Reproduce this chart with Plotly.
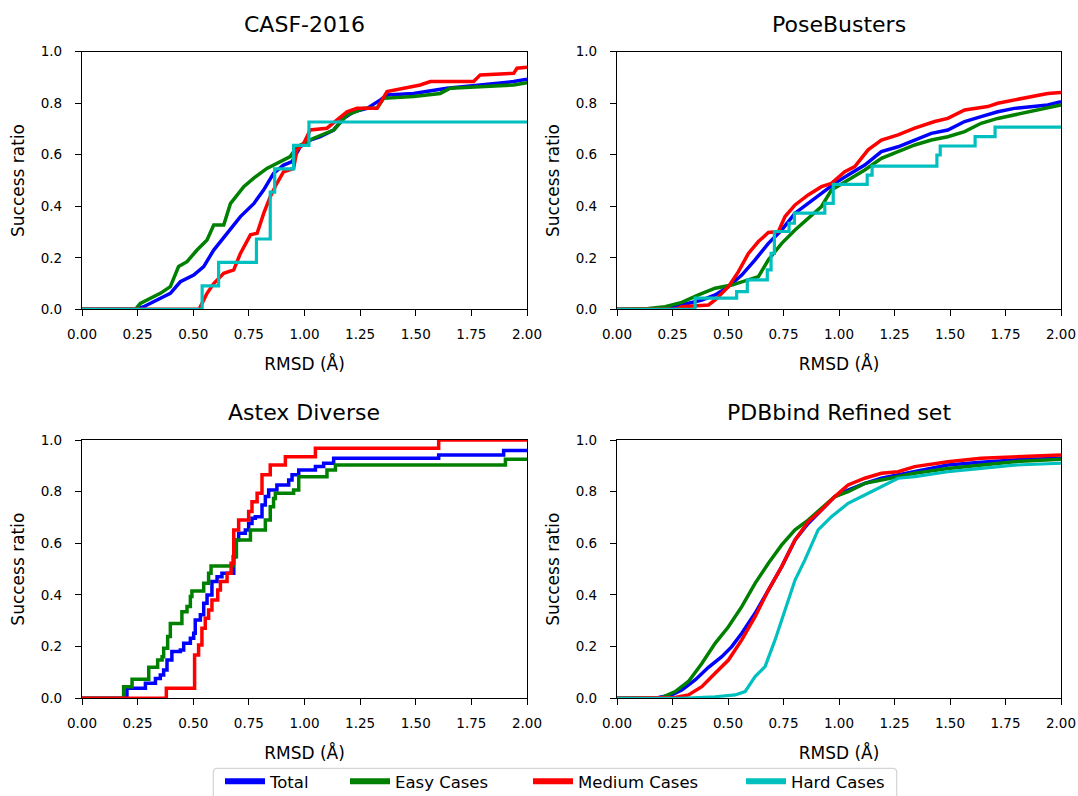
import plotly.graph_objects as go

# ---------------- data ----------------
series_names = ["Total", "Easy Cases", "Medium Cases", "Hard Cases"]
series_colors = ["#0000ff", "#008000", "#ff0000", "#00bfbf"]
panel_titles = ["CASF-2016", "PoseBusters", "Astex Diverse", "PDBbind Refined set"]
x_tick_vals = [0.0, 0.25, 0.5, 0.75, 1.0, 1.25, 1.5, 1.75, 2.0]
y_tick_vals = [0.0, 0.2, 0.4, 0.6, 0.8, 1.0]

# CASF-2016
casf_total_x = [0, 0.24, 0.277, 0.352, 0.397, 0.442, 0.502, 0.547, 0.592, 0.652, 0.712, 0.772, 0.816, 0.861, 0.906, 0.944, 0.981, 1.026, 1.071, 1.131, 1.176, 1.221, 1.281, 1.341, 1.371, 1.49, 1.64, 1.79, 1.94, 2.0]
casf_total_y = [0, 0, 0.01, 0.043, 0.062, 0.107, 0.133, 0.166, 0.23, 0.295, 0.36, 0.41, 0.463, 0.528, 0.56, 0.573, 0.631, 0.657, 0.67, 0.696, 0.741, 0.767, 0.78, 0.813, 0.832, 0.838, 0.858, 0.871, 0.884, 0.893]
casf_easy_x = [0, 0.24, 0.262, 0.292, 0.352, 0.397, 0.434, 0.472, 0.517, 0.562, 0.592, 0.637, 0.667, 0.727, 0.772, 0.831, 0.891, 0.936, 0.966, 1.041, 1.131, 1.191, 1.266, 1.326, 1.356, 1.49, 1.61, 1.655, 1.79, 1.94, 2.0]
casf_easy_y = [0, 0, 0.023, 0.036, 0.062, 0.088, 0.166, 0.185, 0.23, 0.269, 0.327, 0.327, 0.41, 0.476, 0.509, 0.547, 0.573, 0.593, 0.631, 0.664, 0.696, 0.754, 0.78, 0.78, 0.819, 0.826, 0.838, 0.858, 0.864, 0.871, 0.88]
casf_medium_x = [0, 0.529, 0.532, 0.562, 0.592, 0.637, 0.682, 0.712, 0.757, 0.787, 0.817, 0.846, 0.876, 0.906, 0.951, 0.966, 0.996, 1.026, 1.101, 1.146, 1.191, 1.236, 1.326, 1.371, 1.446, 1.52, 1.566, 1.76, 1.79, 1.94, 1.955, 2.0]
casf_medium_y = [0, 0, 0.01, 0.062, 0.1, 0.14, 0.153, 0.217, 0.289, 0.295, 0.373, 0.437, 0.489, 0.534, 0.547, 0.619, 0.644, 0.696, 0.703, 0.735, 0.767, 0.78, 0.78, 0.845, 0.858, 0.871, 0.884, 0.884, 0.91, 0.916, 0.936, 0.94]
casf_hard_x = [0, 0.54, 0.614, 0.784, 0.846, 0.866, 0.951, 1.02, 2.0]
casf_hard_y = [0, 0.091, 0.182, 0.273, 0.455, 0.545, 0.636, 0.727, 0.727]

# PoseBusters
pb_total_x = [0, 0.14, 0.217, 0.292, 0.382, 0.442, 0.502, 0.562, 0.622, 0.682, 0.742, 0.802, 0.861, 0.921, 0.981, 1.041, 1.116, 1.191, 1.266, 1.341, 1.416, 1.49, 1.566, 1.64, 1.715, 1.79, 1.865, 1.94, 2.0]
pb_total_y = [0, 0, 0.006, 0.017, 0.036, 0.056, 0.088, 0.133, 0.192, 0.256, 0.308, 0.373, 0.411, 0.45, 0.489, 0.521, 0.56, 0.612, 0.631, 0.657, 0.683, 0.696, 0.729, 0.748, 0.767, 0.78, 0.787, 0.793, 0.806]
pb_easy_x = [0, 0.142, 0.217, 0.292, 0.367, 0.442, 0.517, 0.592, 0.637, 0.682, 0.742, 0.802, 0.861, 0.921, 0.966, 1.041, 1.116, 1.191, 1.266, 1.341, 1.416, 1.49, 1.566, 1.64, 1.715, 1.79, 1.865, 1.94, 2.0]
pb_easy_y = [0, 0.003, 0.01, 0.027, 0.056, 0.082, 0.094, 0.114, 0.127, 0.192, 0.256, 0.308, 0.353, 0.399, 0.463, 0.502, 0.541, 0.586, 0.612, 0.638, 0.657, 0.67, 0.69, 0.722, 0.741, 0.754, 0.767, 0.78, 0.793]
pb_medium_x = [0, 0.262, 0.292, 0.412, 0.442, 0.502, 0.547, 0.592, 0.637, 0.682, 0.727, 0.757, 0.802, 0.861, 0.921, 0.966, 1.026, 1.071, 1.131, 1.191, 1.266, 1.341, 1.431, 1.49, 1.566, 1.67, 1.715, 1.79, 1.865, 1.94, 2.0]
pb_medium_y = [0, 0, 0.01, 0.017, 0.036, 0.088, 0.146, 0.217, 0.263, 0.298, 0.302, 0.36, 0.405, 0.444, 0.476, 0.489, 0.534, 0.554, 0.619, 0.657, 0.677, 0.703, 0.729, 0.741, 0.774, 0.787, 0.80, 0.813, 0.826, 0.838, 0.842]
pb_hard_x = [0, 0.352, 0.539, 0.587, 0.677, 0.694, 0.709, 0.775, 0.799, 0.936, 0.974, 1.127, 1.149, 1.441, 1.456, 1.613, 1.703, 2.0]
pb_hard_y = [0, 0.043, 0.069, 0.114, 0.153, 0.217, 0.302, 0.334, 0.373, 0.411, 0.485, 0.521, 0.556, 0.599, 0.634, 0.670, 0.707, 0.707]

# Astex Diverse (no hard cases)
astex_total_x = [0, 0.202, 0.285, 0.330, 0.352, 0.367, 0.382, 0.404, 0.442, 0.457, 0.487, 0.502, 0.509, 0.532, 0.547, 0.562, 0.584, 0.607, 0.629, 0.682, 0.689, 0.704, 0.734, 0.749, 0.764, 0.779, 0.809, 0.824, 0.839, 0.876, 0.929, 0.944, 0.974, 1.049, 1.086, 1.131, 1.603, 1.895, 2.0]
astex_total_y = [0, 0.039, 0.058, 0.077, 0.090, 0.110, 0.148, 0.181, 0.187, 0.213, 0.232, 0.252, 0.303, 0.323, 0.368, 0.400, 0.452, 0.471, 0.484, 0.548, 0.613, 0.639, 0.652, 0.677, 0.697, 0.703, 0.748, 0.781, 0.806, 0.826, 0.845, 0.865, 0.884, 0.897, 0.910, 0.929, 0.942, 0.959, 0.959]
astex_easy_x = [0, 0.187, 0.225, 0.300, 0.340, 0.360, 0.367, 0.385, 0.397, 0.449, 0.472, 0.487, 0.494, 0.547, 0.569, 0.580, 0.679, 0.694, 0.757, 0.824, 0.846, 0.861, 0.869, 0.951, 0.974, 1.101, 1.139, 1.903, 2.0]
astex_easy_y = [0, 0.045, 0.074, 0.120, 0.148, 0.161, 0.194, 0.239, 0.290, 0.335, 0.355, 0.394, 0.415, 0.445, 0.484, 0.512, 0.548, 0.613, 0.652, 0.690, 0.742, 0.774, 0.794, 0.806, 0.858, 0.884, 0.903, 0.925, 0.925]
astex_medium_x = [0, 0.379, 0.506, 0.524, 0.539, 0.554, 0.569, 0.584, 0.610, 0.622, 0.652, 0.670, 0.682, 0.704, 0.749, 0.764, 0.787, 0.809, 0.846, 0.914, 1.049, 1.603, 2.0]
astex_medium_y = [0, 0.039, 0.168, 0.206, 0.271, 0.310, 0.342, 0.381, 0.419, 0.452, 0.484, 0.523, 0.652, 0.690, 0.723, 0.761, 0.794, 0.865, 0.903, 0.935, 0.968, 1.0, 1.0]

# PDBbind Refined set
pdb_total_x = [0, 0.187, 0.247, 0.292, 0.352, 0.412, 0.472, 0.517, 0.562, 0.622, 0.682, 0.742, 0.802, 0.861, 0.921, 0.981, 1.041, 1.116, 1.191, 1.266, 1.341, 1.49, 1.64, 1.79, 2.0]
pdb_total_y = [0, 0.003, 0.013, 0.032, 0.071, 0.12, 0.161, 0.2, 0.252, 0.329, 0.419, 0.51, 0.613, 0.677, 0.729, 0.781, 0.806, 0.832, 0.852, 0.865, 0.877, 0.903, 0.914, 0.923, 0.929]
pdb_easy_x = [0, 0.202, 0.262, 0.322, 0.382, 0.442, 0.502, 0.562, 0.622, 0.682, 0.742, 0.802, 0.861, 0.921, 0.981, 1.041, 1.116, 1.191, 1.266, 1.341, 1.49, 1.64, 1.79, 2.0]
pdb_easy_y = [0, 0.003, 0.026, 0.065, 0.135, 0.213, 0.277, 0.355, 0.445, 0.523, 0.594, 0.652, 0.69, 0.735, 0.781, 0.80, 0.832, 0.845, 0.858, 0.871, 0.89, 0.903, 0.916, 0.925]
pdb_medium_x = [0, 0.262, 0.322, 0.382, 0.442, 0.502, 0.562, 0.622, 0.682, 0.742, 0.802, 0.861, 0.921, 0.981, 1.041, 1.116, 1.191, 1.266, 1.341, 1.49, 1.64, 1.79, 2.0]
pdb_medium_y = [0, 0.003, 0.013, 0.045, 0.097, 0.148, 0.226, 0.316, 0.419, 0.51, 0.613, 0.684, 0.729, 0.781, 0.826, 0.852, 0.871, 0.877, 0.897, 0.916, 0.929, 0.935, 0.942]
pdb_hard_x = [0, 0.292, 0.442, 0.532, 0.577, 0.622, 0.667, 0.712, 0.757, 0.802, 0.846, 0.906, 0.966, 1.041, 1.116, 1.191, 1.266, 1.341, 1.49, 1.64, 1.79, 2.0]
pdb_hard_y = [0, 0, 0.006, 0.013, 0.026, 0.084, 0.123, 0.226, 0.342, 0.458, 0.535, 0.652, 0.703, 0.755, 0.787, 0.819, 0.852, 0.858, 0.877, 0.89, 0.903, 0.91]

panels = [
    [(casf_total_x, casf_total_y, "linear"), (casf_easy_x, casf_easy_y, "linear"),
     (casf_medium_x, casf_medium_y, "linear"), (casf_hard_x, casf_hard_y, "hv")],
    [(pb_total_x, pb_total_y, "linear"), (pb_easy_x, pb_easy_y, "linear"),
     (pb_medium_x, pb_medium_y, "linear"), (pb_hard_x, pb_hard_y, "hv")],
    [(astex_total_x, astex_total_y, "hv"), (astex_easy_x, astex_easy_y, "hv"),
     (astex_medium_x, astex_medium_y, "hv"), None],
    [(pdb_total_x, pdb_total_y, "linear"), (pdb_easy_x, pdb_easy_y, "linear"),
     (pdb_medium_x, pdb_medium_y, "linear"), (pdb_hard_x, pdb_hard_y, "linear")],
]

# ---------------- layout geometry ----------------
W, H = 1078, 796
x_domains = [(82 / W, 527 / W), (617 / W, 1061 / W)]
y_domains = [(1 - 309.3 / H, 1 - 51.7 / H), (1 - 698.3 / H, 1 - 440 / H)]
FONT = "DejaVu Sans"
legend_entry_px = [224, 349, 532, 745]   # left edge of each legend entry (pixels)

fig = go.Figure()
layout = dict(
    width=W, height=H,
    margin=dict(l=0, r=0, t=0, b=0, autoexpand=False),
    paper_bgcolor="white", plot_bgcolor="white",
    font=dict(family=FONT, color="black"),
    showlegend=True,
)
for i, px in enumerate(legend_entry_px):
    key = "legend" if i == 0 else f"legend{i + 1}"
    layout[key] = dict(orientation="h", x=(px - 4) / W, xanchor="left",
                       y=1 - 764 / H, yanchor="top", borderwidth=0,
                       bgcolor="rgba(0,0,0,0)", font=dict(size=16.5, family=FONT),
                       itemwidth=40)

annotations = []
for p in range(4):
    row, col = divmod(p, 2)
    idx = p + 1
    xa = "xaxis" if idx == 1 else f"xaxis{idx}"
    ya = "yaxis" if idx == 1 else f"yaxis{idx}"
    xref = "x" if idx == 1 else f"x{idx}"
    yref = "y" if idx == 1 else f"y{idx}"
    layout[xa] = dict(domain=x_domains[col], anchor=yref, range=[0, 2], automargin=False,
                      tickvals=x_tick_vals, tickformat=".2f", ticks="outside", ticklen=6,
                      tickwidth=1.1, tickcolor="black", showline=True, linecolor="black",
                      linewidth=1.2, mirror=True, showgrid=False, zeroline=False,
                      ticklabelstandoff=6,
                      tickfont=dict(size=13.5, family=FONT),
                      title=dict(text="RMSD (Å)", font=dict(size=17, family=FONT), standoff=17))
    layout[ya] = dict(domain=y_domains[row], anchor=xref, range=[0, 1], automargin=False,
                      tickvals=y_tick_vals, tickformat=".1f", ticks="outside", ticklen=6,
                      tickwidth=1.1, tickcolor="black", showline=True, linecolor="black",
                      linewidth=1.2, mirror=True, showgrid=False, zeroline=False,
                      ticklabelstandoff=10,
                      tickfont=dict(size=13.5, family=FONT),
                      title=dict(text="Success ratio", font=dict(size=17, family=FONT), standoff=11))
    annotations.append(dict(text=panel_titles[p], xref="paper", yref="paper",
                            x=sum(x_domains[col]) / 2, y=y_domains[row][1],
                            xanchor="center", yanchor="bottom", yshift=13, showarrow=False,
                            font=dict(size=22, family=FONT)))
    for s, data in enumerate(panels[p]):
        if data is None:
            continue
        xs, ys, shape = data
        fig.add_trace(go.Scatter(
            x=xs, y=ys, mode="lines", xaxis=xref, yaxis=yref,
            line=dict(color=series_colors[s], width=3.5 if s < 3 else 3.2, shape=shape),
            name=series_names[s], showlegend=False, hoverinfo="x+y+name",
        ))

# legend entries (thicker handles, as in the original legend); no data of their own
for s, name in enumerate(series_names):
    fig.add_trace(go.Scatter(
        x=[None], y=[None], mode="lines", name=name,
        line=dict(color=series_colors[s], width=6),
        showlegend=True, legend="legend" if s == 0 else f"legend{s + 1}",
    ))

# legend frame (rounded, light grey), extends past the bottom edge like the original
x0, x1 = 213.3 / W, 896.7 / W
yt, yb = 1 - 768.3 / H, 1 - 805 / H
rx, ry = 4 / W, 4 / H
frame_path = (f"M{x0},{yb} L{x0},{yt - ry} Q{x0},{yt} {x0 + rx},{yt} "
              f"L{x1 - rx},{yt} Q{x1},{yt} {x1},{yt - ry} L{x1},{yb}")
layout["shapes"] = [dict(type="path", xref="paper", yref="paper", path=frame_path,
                         line=dict(color="#d4d4d4", width=1.2), layer="below")]
layout["annotations"] = annotations
fig.update_layout(**layout)

# remove the default page margin so the figure fills the window exactly
fig.write_html("out.html", config={"displayModeBar": False},
               post_script="document.body.style.margin='0px';"
                           "document.body.style.overflow='hidden';")
